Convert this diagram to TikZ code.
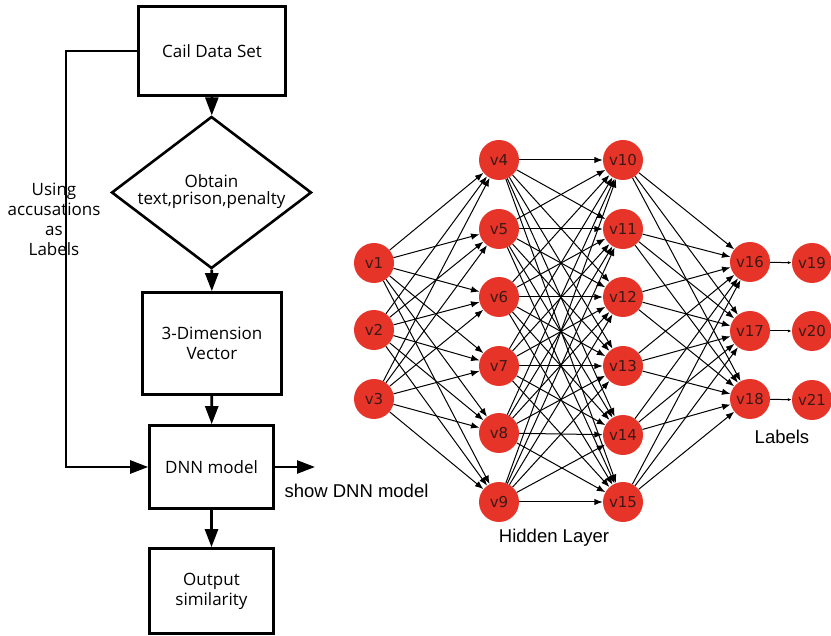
\documentclass[tikz,border=0pt]{standalone}
\usepackage{fontspec}
\setmainfont{Open Sans}
\newfontfamily\arialf{Liberation Sans}
\newfontfamily\dejavu{DejaVu Sans}
\usetikzlibrary{shapes.geometric,arrows.meta}
\definecolor{nred}{RGB}{230,52,40}
\definecolor{ntext}{RGB}{60,25,22}
\begin{document}
\begin{tikzpicture}[x=1pt,y=-1pt,
  fc/.style={font=\fontsize{17}{20}\selectfont},
  box/.style={fc,draw,line width=2.6pt,rectangle,align=center,inner sep=0pt},
  flow/.style={line width=2.6pt,-{Triangle[length=18pt,width=13pt]}},
  neu/.style={circle,fill=nred,minimum size=40pt,inner sep=0pt,font=\dejavu\fontsize{15}{15}\selectfont,text=ntext},
  nedge/.style={line width=1pt,-{Latex[length=8.5pt,width=6.5pt]}},
  ledge/.style={line width=1pt,-{Latex[length=4pt,width=3pt]}},
  lab/.style={font=\arialf\fontsize{18.5}{20}\selectfont}
]
\useasboundingbox (0,0) rectangle (831,636);
\fill[white] (0,0) rectangle (831,636);

% flowchart
\node[box,minimum width=147pt,minimum height=89pt] (cail) at (212,51) {Cail Data Set};
\node[fc,draw,line width=2.6pt,diamond,minimum width=200pt,minimum height=152pt,inner sep=0pt] (obt) at (211.5,192.5)
  {\makebox[0pt]{\begin{tabular}{@{}c@{}}Obtain\\[-3pt]text,prison,penalty\end{tabular}}};
\node[box,minimum width=139pt,minimum height=102pt] (vec) at (212,343.5) {3-Dimension\\Vector};
\node[box,minimum width=124pt,minimum height=83pt] (dnn) at (211.5,467) {DNN model};
\node[box,minimum width=124pt,minimum height=85pt] (out) at (211.5,591) {Output\\similarity};
\coordinate (lc) at (66,51);
\coordinate (showend) at (315,467);

\draw[flow] (cail) -- (obt);
\draw[flow] (obt) -- (vec);
\draw[flow] (vec) -- (dnn);
\draw[flow] (dnn) -- (out);
\draw[flow] (cail.west) -- (lc) |- (dnn.west);
\draw[flow] (dnn.east) -- (showend);

\node[fc,align=center] (using) at (54,219) {Using\\accusations\\as\\Labels};
\node[lab,anchor=west] (show) at (281,491) {show DNN model};

% network
\foreach \i/\y in {1/263,2/330,3/399} \node[neu] (v\i) at (374,\y) {v\i};
\foreach \i/\y in {4/160,5/229,6/297,7/366,8/433,9/502} \node[neu] (v\i) at (499,\y) {v\i};
\foreach \i/\y in {10/160,11/229,12/297,13/366,14/435,15/502} \node[neu] (v\i) at (623,\y) {v\i};
\foreach \i/\y in {16/262,17/331,18/399} \node[neu] (v\i) at (750,\y) {v\i};
\foreach \i/\y in {19/263,20/331,21/400} \node[neu] (v\i) at (812,\y) {v\i};

\foreach \a in {1,2,3} \foreach \b in {4,...,9} \draw[nedge] (v\a) -- (v\b);
\foreach \a in {4,...,9} \foreach \b in {10,...,15} \draw[nedge] (v\a) -- (v\b);
\foreach \a in {10,...,15} \foreach \b in {16,17,18} \draw[nedge] (v\a) -- (v\b);
\draw[ledge] (v16) -- (v19);
\draw[ledge] (v17) -- (v20);
\draw[ledge] (v18) -- (v21);

\node[lab] (hid) at (554,538) {Hidden Layer};
\node[lab] (labs) at (782,437) {Labels};
\end{tikzpicture}
\end{document}
